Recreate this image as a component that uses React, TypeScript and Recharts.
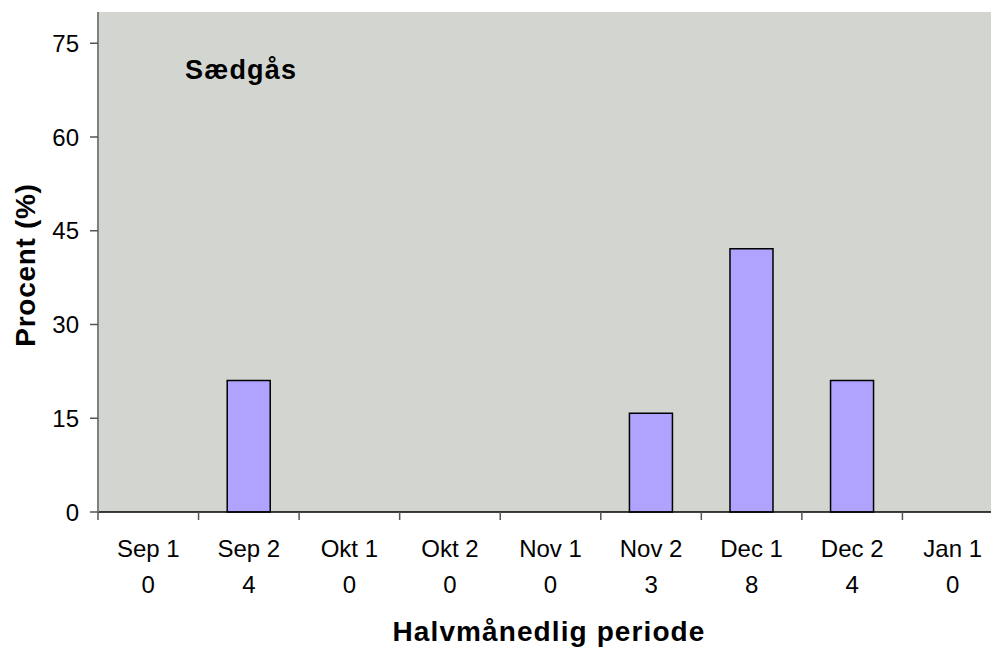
import React from 'react';
import { BarChart, Bar, XAxis, YAxis, CartesianGrid, Label } from 'recharts';

const periods = ['Sep 1', 'Sep 2', 'Okt 1', 'Okt 2', 'Nov 1', 'Nov 2', 'Dec 1', 'Dec 2', 'Jan 1'];
const counts = [0, 4, 0, 0, 0, 3, 8, 4, 0];
const percents = [0, 21.05, 0, 0, 0, 15.79, 42.11, 21.05, 0];
const yTicks = [0, 15, 30, 45, 60, 75];
const speciesName = 'Sædgås';
const yTitle = 'Procent (%)';
const xTitle = 'Halvmånedlig periode';

const data = periods.map((p, i) => ({ period: p, n: counts[i], pct: percents[i] }));

const FONT = '"Liberation Sans", Arial, sans-serif';
const CHART_W = 1003;
const Y_AXIS_W = 98;
const HALF_BAND = (CHART_W - Y_AXIS_W) / periods.length / 2;

const XTick = (props: any) => {
  const { x, y, payload, index } = props;
  const i = typeof index === 'number' ? index : periods.indexOf(payload.value);
  return (
    <g>
      <line x1={x - HALF_BAND} y1={y} x2={x - HALF_BAND} y2={y + 8} stroke="#555" strokeWidth={1.5} />
      <text x={x} y={y + 45} textAnchor="middle" fontFamily={FONT} fontSize={24} fill="#000">
        {payload.value}
      </text>
      <text x={x} y={y + 81} textAnchor="middle" fontFamily={FONT} fontSize={24} fill="#000">
        {counts[i]}
      </text>
    </g>
  );
};

export default function App() {
  return (
    <div style={{ position: 'fixed', left: 0, top: 0, width: 991, height: 649, overflow: 'hidden', background: '#fff' }}>
      <BarChart
        width={CHART_W}
        height={649}
        data={data}
        margin={{ top: 12, right: 0, bottom: 0, left: 0 }}
        barCategoryGap="28.5%"
      >
        <CartesianGrid fill="#d3d5d0" horizontal={false} vertical={false} stroke="none" />
        <XAxis
          dataKey="period"
          height={137}
          interval={0}
          tickSize={0}
          tickMargin={0}
          tickLine={false}
          axisLine={{ stroke: '#000', strokeWidth: 1.5 }}
          tick={<XTick />}
        >
          <Label
            content={() => (
              <text x={549} y={641} textAnchor="middle" fontFamily={FONT} fontSize={28} fontWeight="bold" letterSpacing={1.1} fill="#000">
                {xTitle}
              </text>
            )}
          />
        </XAxis>
        <YAxis
          width={Y_AXIS_W}
          domain={[0, 80]}
          ticks={yTicks}
          interval={0}
          tickSize={8}
          tickMargin={11}
          tickLine={{ stroke: '#555', strokeWidth: 1.5 }}
          axisLine={{ stroke: '#808080', strokeWidth: 2 }}
          tick={{ fontFamily: FONT, fontSize: 24, fill: '#000' }}
        >
          <Label
            content={() => (
              <g>
                <text
                  x={35}
                  y={265}
                  transform="rotate(-90, 35, 265)"
                  textAnchor="middle"
                  fontFamily={FONT}
                  fontSize={28}
                  fontWeight="bold"
                  letterSpacing={0.7}
                  fill="#000"
                >
                  {yTitle}
                </text>
                <text x={185} y={79} fontFamily={FONT} fontSize={27} fontWeight="bold" letterSpacing={1.2} fill="#000">
                  {speciesName}
                </text>
              </g>
            )}
          />
        </YAxis>
        <Bar dataKey="pct" fill="#b0a2ff" stroke="#000" strokeWidth={1.5} isAnimationActive={false} />
      </BarChart>
    </div>
  );
}
